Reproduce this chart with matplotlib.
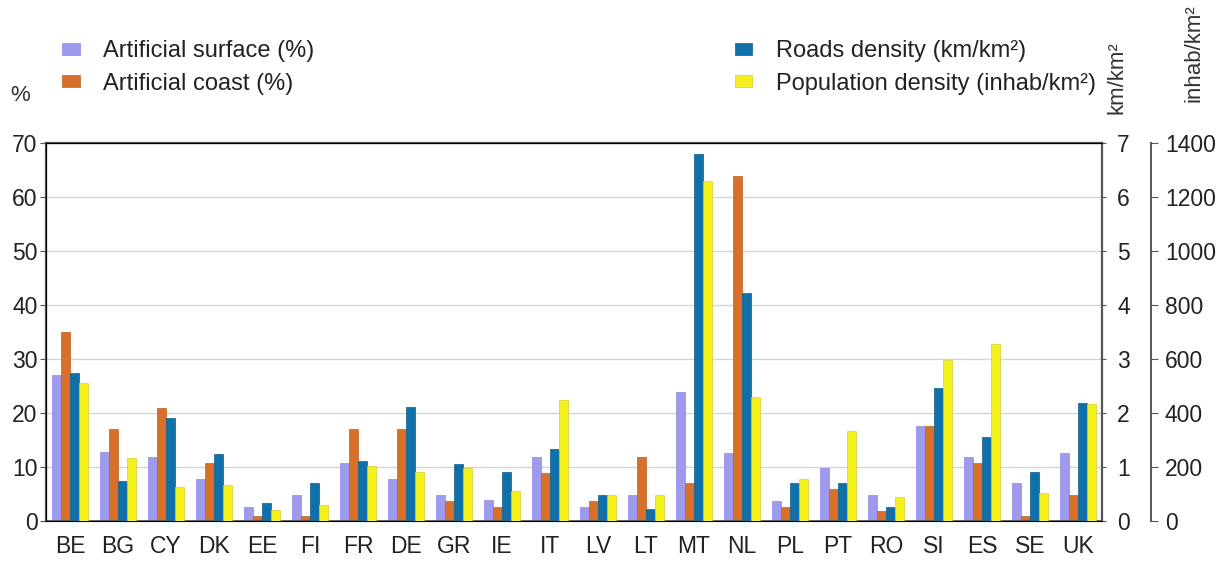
import numpy as np
import matplotlib.pyplot as plt

plt.rcParams['font.family'] = ['Liberation Sans', 'DejaVu Sans']

countries = ['BE', 'BG', 'CY', 'DK', 'EE', 'FI', 'FR', 'DE', 'GR', 'IE', 'IT',
             'LV', 'LT', 'MT', 'NL', 'PL', 'PT', 'RO', 'SI', 'ES', 'SE', 'UK']
# %
art_surface = [27.1, 12.7, 11.9, 7.8, 2.6, 4.9, 10.8, 7.8, 4.9, 3.9, 11.9,
               2.6, 4.8, 23.8, 12.6, 3.7, 9.9, 4.8, 17.6, 11.9, 7.0, 12.6]
art_coast = [35.0, 17.1, 21.0, 10.8, 1.0, 1.0, 17.1, 17.1, 3.7, 2.6, 8.8,
             3.7, 11.9, 7.0, 63.9, 2.6, 5.9, 1.8, 17.6, 10.8, 0.9, 4.8]
# km/km2
roads = [2.75, 0.74, 1.91, 1.24, 0.34, 0.70, 1.12, 2.12, 1.06, 0.91, 1.34,
         0.48, 0.22, 6.79, 4.23, 0.70, 0.70, 0.26, 2.46, 1.56, 0.91, 2.19]
# inhab/km2
population = [512, 234, 126, 134, 40, 60, 204, 182, 198, 112, 448,
              96, 96, 1258, 460, 156, 334, 90, 596, 656, 104, 434]

c_surf = '#9E9BEE'
c_coast = '#D6702B'
c_roads = '#1170A8'
c_pop = '#F4F01E'

fig = plt.figure(figsize=(12.25, 5.64), dpi=100)
ax = fig.add_axes([0.0376, 0.0762, 0.862, 0.6703])
ax2 = ax.twinx()
ax3 = ax.twinx()

x = np.arange(len(countries))
w = 0.185
b1 = ax.bar(x - 1.5 * w, art_surface, w, color=c_surf, edgecolor='#8c88e0', lw=0.5)
b2 = ax.bar(x - 0.5 * w, art_coast, w, color=c_coast, edgecolor='#c0601f', lw=0.5)
b3 = ax2.bar(x + 0.5 * w, roads, w, color=c_roads, edgecolor='#0c5f90', lw=0.5)
b4 = ax3.bar(x + 1.5 * w, population, w, color=c_pop, edgecolor='#d8d030', lw=0.5)

ax.set_xlim(-0.5, len(countries) - 0.5)
ax.set_ylim(0, 70)
ax.set_yticks(range(0, 71, 10))
ax.set_axisbelow(True)
ax.grid(axis='y', color='#d4d4d4', lw=1)
ax.set_xticks(x)
ax.set_xticklabels(countries, fontsize=16.5, color='#222222')
ax.tick_params(axis='x', length=0, pad=10)
ax.tick_params(axis='y', labelsize=16.5, length=4, color='#555555', labelcolor='#222222', pad=2)
for s in ['left', 'top', 'right']:
    ax.spines[s].set_color('#555555')
    ax.spines[s].set_linewidth(1.6)
ax.spines['bottom'].set_color('#555555')
ax.spines['bottom'].set_linewidth(1.2)

ax2.set_ylim(0, 7)
ax2.set_yticks(range(0, 8))
ax2.tick_params(axis='y', labelsize=16.5, length=3, color='#555555', labelcolor='#222222', pad=8)
ax2.spines['right'].set_visible(False)

ax3.set_ylim(0, 1400)
ax3.set_yticks(range(0, 1401, 200))
ax3.spines['right'].set_position(('axes', 1.0464))
ax3.spines['right'].set_color('#555555')
ax3.spines['right'].set_linewidth(1.4)
for s in ['left', 'top', 'bottom']:
    ax3.spines[s].set_visible(False)
ax3.tick_params(axis='y', labelsize=16.5, length=5, color='#555555', labelcolor='#222222', pad=5)

fig.text(0.008, 0.83, '%', fontsize=16, color='#333333', va='center')
fig.text(0.912, 0.862, 'km/km²', fontsize=16, color='#333333', rotation=90,
         va='center', ha='center')
fig.text(0.975, 0.905, 'inhab/km²', fontsize=16, color='#333333', rotation=90,
         va='center', ha='center')

leg_kw = dict(loc='upper left', frameon=False, fontsize=17, handlelength=0.75,
              handleheight=0.4, handletextpad=1.0, labelspacing=0.45, borderpad=0)
leg1 = fig.legend([b1, b2], ['Artificial surface (%)', 'Artificial coast (%)'],
                  bbox_to_anchor=(0.041, 0.95), **leg_kw)
leg2 = fig.legend([b3, b4], ['Roads density (km/km²)', 'Population density (inhab/km²)'],
                  bbox_to_anchor=(0.59, 0.95), **leg_kw)
for t in leg1.get_texts() + leg2.get_texts():
    t.set_color('#222222')

fig.savefig('out.png', dpi=100)
